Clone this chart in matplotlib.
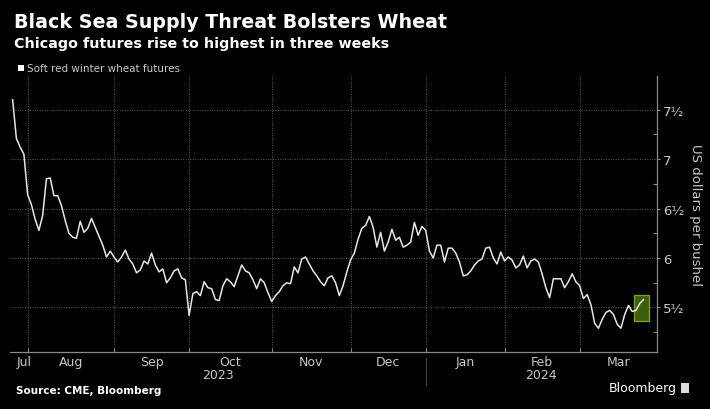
import matplotlib
matplotlib.use("Agg")
import matplotlib.pyplot as plt
import numpy as np
import pandas as pd
from matplotlib.patches import Rectangle

# soft red winter wheat futures, USD per bushel (one value per trading day from Jul 26 2023)
prices = [
    7.60, 7.21, 7.12, 7.05, 6.64, 6.54, 6.39, 6.28, 6.43, 6.80,
    6.81, 6.63, 6.63, 6.53, 6.38, 6.25, 6.21, 6.20, 6.37, 6.26,
    6.30, 6.40, 6.31, 6.22, 6.13, 6.01, 6.07, 6.01, 5.96, 6.01,
    6.08, 5.99, 5.94, 5.85, 5.88, 5.97, 5.94, 6.05, 5.93, 5.86,
    5.89, 5.75, 5.80, 5.87, 5.89, 5.80, 5.78, 5.42, 5.64, 5.66,
    5.62, 5.76, 5.70, 5.69, 5.58, 5.57, 5.72, 5.79, 5.76, 5.71,
    5.82, 5.93, 5.87, 5.85, 5.78, 5.69, 5.79, 5.75, 5.65, 5.56,
    5.62, 5.66, 5.72, 5.75, 5.74, 5.91, 5.85, 5.99, 6.01, 5.94,
    5.87, 5.82, 5.76, 5.72, 5.80, 5.82, 5.75, 5.62, 5.72, 5.86,
    5.98, 6.05, 6.19, 6.30, 6.33, 6.42, 6.31, 6.11, 6.26, 6.07,
    6.16, 6.29, 6.18, 6.21, 6.11, 6.13, 6.16, 6.36, 6.23, 6.32,
    6.28, 6.07, 6.00, 6.13, 6.13, 5.96, 6.10, 6.10, 6.05, 5.96,
    5.82, 5.83, 5.87, 5.93, 5.97, 5.99, 6.10, 6.11, 6.00, 5.94,
    6.06, 5.97, 6.01, 5.98, 5.90, 5.93, 6.02, 5.90, 5.97, 5.99,
    5.96, 5.84, 5.70, 5.60, 5.79, 5.79, 5.79, 5.70, 5.76, 5.84,
    5.76, 5.72, 5.59, 5.63, 5.53, 5.34, 5.29, 5.38, 5.45, 5.47,
    5.43, 5.33, 5.29, 5.43, 5.52, 5.46, 5.47, 5.54, 5.58,
]

# CME trading calendar for the x axis (through end of March 2024)
holidays = ["2023-09-04", "2023-11-23", "2023-12-25", "2024-01-01",
            "2024-01-15", "2024-02-19", "2024-03-29"]
dates = pd.bdate_range("2023-07-26", "2024-03-31", freq="C", holidays=holidays)

month_labels = ["Jul", "Aug", "Sep", "Oct", "Nov", "Dec", "Jan", "Feb", "Mar"]
year_labels = ["2023", "2024"]
y_ticks = [5.5, 6, 6.5, 7, 7.5]
y_tick_labels = ["5½", "6", "6½", "7", "7½"]
y_minor = [5.25, 5.75, 6.25, 6.75, 7.25]

# highlighted last few sessions
hl_x = (165.5, 169.6)
hl_y = (5.365, 5.63)

bg = "black"
grid_col = "#5a5a5a"
text_col = "#c8c8c8"
narrow = ["Liberation Sans Narrow", "DejaVu Sans"]

fig = plt.figure(figsize=(7.1, 4.1), dpi=100, facecolor=bg)
ax = fig.add_axes([10 / 710, 57 / 410, 647 / 710, 276 / 410], facecolor=bg)

x = np.arange(len(prices))
ax.plot(x, prices, color="#e6e6e6", lw=1.1, zorder=3)

ax.add_patch(Rectangle((hl_x[0], hl_y[0]), hl_x[1] - hl_x[0], hl_y[1] - hl_y[0],
                       facecolor="#3f5e0c", edgecolor="#7aa81c", lw=0.9, zorder=2))

xmin, xmax = -0.7, len(dates) + 0.6
ax.set_xlim(xmin, xmax)
ax.set_ylim(5.05, 7.84)

# month boundaries
starts = [i for i in range(1, len(dates)) if dates[i].month != dates[i - 1].month]
for s in starts:
    ax.axvline(s, color=grid_col, lw=0.7, ls=(0, (1, 1.5)), zorder=1)
for yv in y_ticks:
    ax.axhline(yv, color=grid_col, lw=0.7, ls=(0, (1, 1.5)), zorder=1)

for sp in ["top", "left"]:
    ax.spines[sp].set_visible(False)
for sp in ["right", "bottom"]:
    ax.spines[sp].set_color("#8a8a8a")
    ax.spines[sp].set_linewidth(0.9)

ax.set_xticks(starts)
ax.set_xticklabels([])
ax.tick_params(axis="x", direction="in", length=3, color="#8a8a8a", width=0.8)

ax.yaxis.tick_right()
ax.set_yticks(y_ticks)
ax.set_yticklabels(y_tick_labels, color=text_col, fontsize=9.5, family=narrow)
ax.set_yticks(y_minor, minor=True)
ax.tick_params(axis="y", which="major", direction="out", length=2.5, color="#8a8a8a",
               width=0.8, pad=2)
ax.tick_params(axis="y", which="minor", direction="in", length=3, color="#8a8a8a", width=0.8)

# month labels centred in each month
bounds = [xmin] + starts + [xmax]
for k, lab in enumerate(month_labels):
    if k == 0:
        ax.text(1.1, -0.033, lab, transform=ax.get_xaxis_transform(), ha="left", va="center",
                color=text_col, fontsize=9, family=narrow)
    else:
        ax.text((bounds[k] + bounds[k + 1]) / 2, -0.033, lab, transform=ax.get_xaxis_transform(),
                ha="center", va="center", color=text_col, fontsize=9, family=narrow)

jan = starts[5]
ax.text((xmin + jan) / 2, -0.083, year_labels[0], transform=ax.get_xaxis_transform(),
        ha="center", va="center", color=text_col, fontsize=9, family=narrow)
ax.text((jan + xmax) / 2, -0.083, year_labels[1], transform=ax.get_xaxis_transform(),
        ha="center", va="center", color=text_col, fontsize=9, family=narrow)
ax.plot([jan, jan], [-0.02, -0.12], transform=ax.get_xaxis_transform(), color="#444444",
        lw=0.8, clip_on=False)

ax.text(1.059, 0.5, "US dollars per bushel", transform=ax.transAxes, rotation=270,
        ha="center", va="center", color=text_col, fontsize=9.5)

fig.text(14 / 710, 1 - 13 / 410, "Black Sea Supply Threat Bolsters Wheat", color="white",
         fontsize=13.7, fontweight="bold", ha="left", va="top")
fig.text(14 / 710, 1 - 37 / 410, "Chicago futures rise to highest in three weeks", color="white",
         fontsize=10.3, fontweight="bold", ha="left", va="top")

fig.patches.append(Rectangle((18 / 710, 1 - 72 / 410), 6 / 710, 6 / 410, transform=fig.transFigure,
                             facecolor="white", edgecolor="none"))
fig.text(27 / 710, 1 - 69 / 410, "Soft red winter wheat futures", color=text_col,
         fontsize=7.5, ha="left", va="center", family=narrow)

fig.text(16 / 710, 1 - 391 / 410, "Source: CME, Bloomberg", color="white", fontsize=7.5,
         fontweight="bold", ha="left", va="center")
fig.text(677 / 710, 1 - 389 / 410, "Bloomberg", color="white", fontsize=9,
         ha="right", va="center")
fig.patches.append(Rectangle((681 / 710, 1 - 394 / 410), 8 / 710, 10 / 410, transform=fig.transFigure,
                             facecolor="#dddddd", edgecolor="none"))

fig.savefig("out.png", dpi=100, facecolor=bg)
